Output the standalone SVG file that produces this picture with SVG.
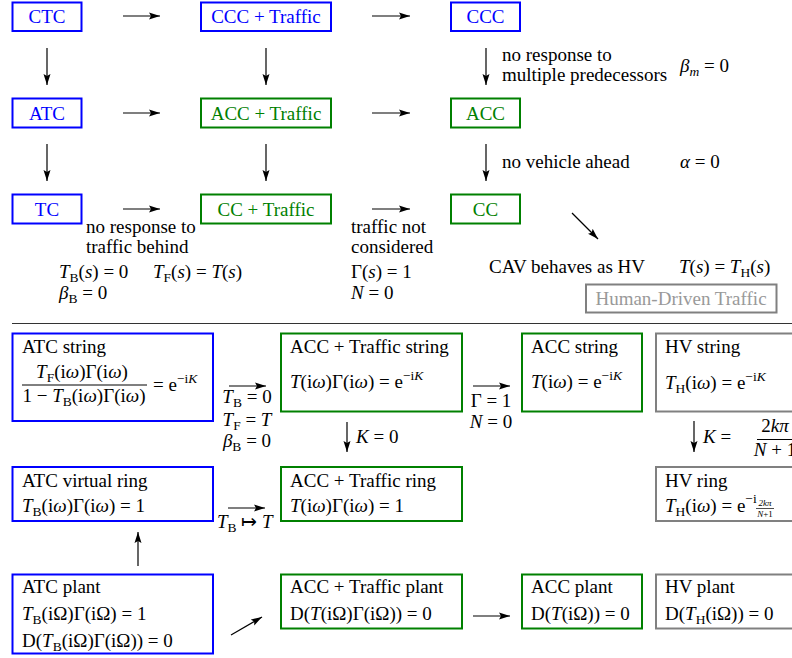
<svg xmlns="http://www.w3.org/2000/svg" width="792" height="658" viewBox="0 0 792 658">
<defs>
<marker id="ah" markerWidth="12" markerHeight="8" refX="11" refY="4" orient="auto" markerUnits="userSpaceOnUse"><path d="M0,0.5 L11,4 L0,7.5 L2,4 z" fill="#000"/></marker>
</defs>
<rect x="0" y="0" width="792" height="658" fill="#fff"/>

<!-- top section nodes -->
<g id="CTC"><rect x="12.5" y="2.5" width="69" height="28.5" fill="none" stroke="#0000ff" stroke-width="2"/><text font-family="Liberation Serif" font-size="19" fill="#0000ff" text-anchor="middle" x="47" y="23">CTC</text></g>
<g id="CCC-Traffic"><rect x="201" y="2.5" width="130" height="28.5" fill="none" stroke="#0000ff" stroke-width="2"/><text font-family="Liberation Serif" font-size="19" fill="#0000ff" text-anchor="middle" x="266" y="23">CCC + Traffic</text></g>
<g id="CCC"><rect x="451" y="2.5" width="69" height="28.5" fill="none" stroke="#0000ff" stroke-width="2"/><text font-family="Liberation Serif" font-size="19" fill="#0000ff" text-anchor="middle" x="485.5" y="23">CCC</text></g>
<g id="ATC"><rect x="12.5" y="98.5" width="69" height="29" fill="none" stroke="#0000ff" stroke-width="2"/><text font-family="Liberation Serif" font-size="19" fill="#0000ff" text-anchor="middle" x="47" y="120">ATC</text></g>
<g id="ACC-Traffic"><rect x="201" y="98.5" width="130" height="29" fill="none" stroke="#008000" stroke-width="2"/><text font-family="Liberation Serif" font-size="19" fill="#008000" text-anchor="middle" x="266" y="120">ACC + Traffic</text></g>
<g id="ACC"><rect x="451" y="98.5" width="69" height="29" fill="none" stroke="#008000" stroke-width="2"/><text font-family="Liberation Serif" font-size="19" fill="#008000" text-anchor="middle" x="485.5" y="120">ACC</text></g>
<g id="TC"><rect x="12.5" y="194.5" width="69" height="29" fill="none" stroke="#0000ff" stroke-width="2"/><text font-family="Liberation Serif" font-size="19" fill="#0000ff" text-anchor="middle" x="47" y="216">TC</text></g>
<g id="CC-Traffic"><rect x="201" y="194.5" width="130" height="29" fill="none" stroke="#008000" stroke-width="2"/><text font-family="Liberation Serif" font-size="19" fill="#008000" text-anchor="middle" x="266" y="216">CC + Traffic</text></g>
<g id="CC"><rect x="451" y="194.5" width="69" height="29" fill="none" stroke="#008000" stroke-width="2"/><text font-family="Liberation Serif" font-size="19" fill="#008000" text-anchor="middle" x="485.5" y="216">CC</text></g>
<g id="HDT"><rect x="586" y="284.5" width="190.5" height="28" fill="none" stroke="#808080" stroke-width="2"/><text font-family="Liberation Serif" font-size="19" fill="#999999" text-anchor="middle" x="681" y="305">Human-Driven Traffic</text></g>

<!-- separator -->
<line x1="12" y1="323.5" x2="792" y2="323.5" stroke="#333" stroke-width="1"/>

<!-- bottom section nodes -->
<g id="ATC-string"><rect x="12.5" y="333.5" width="200.5" height="87.5" fill="none" stroke="#0000ff" stroke-width="2"/>
<text font-family="Liberation Serif" font-size="19" x="22" y="353">ATC string</text>
<text font-family="Liberation Serif" font-size="19" text-anchor="middle" x="82" y="378"><tspan font-style="italic">T</tspan><tspan font-size="13.5" dy="4">F</tspan><tspan dy="-4">(i</tspan><tspan font-style="italic">ω</tspan>)Γ(i<tspan font-style="italic">ω</tspan>)</text>
<line x1="22" y1="385" x2="147" y2="385" stroke="#000" stroke-width="1"/>
<text font-family="Liberation Serif" font-size="19" text-anchor="middle" x="84" y="402">1 − <tspan font-style="italic">T</tspan><tspan font-size="13.5" dy="4">B</tspan><tspan dy="-4">(i</tspan><tspan font-style="italic">ω</tspan>)Γ(i<tspan font-style="italic">ω</tspan>)</text>
<text font-family="Liberation Serif" font-size="19" x="153" y="391">= e<tspan font-size="13.5" dy="-8">−i</tspan><tspan font-size="13.5" font-style="italic">K</tspan></text>
</g>
<g id="ACC-Traffic-string"><rect x="281" y="333.5" width="181" height="78" fill="none" stroke="#008000" stroke-width="2"/>
<text font-family="Liberation Serif" font-size="19" x="290" y="353">ACC + Traffic string</text>
<text font-family="Liberation Serif" font-size="19" x="290" y="388"><tspan font-style="italic">T</tspan>(i<tspan font-style="italic">ω</tspan>)Γ(i<tspan font-style="italic">ω</tspan>) = e<tspan font-size="13.5" dy="-8">−i</tspan><tspan font-size="13.5" font-style="italic">K</tspan></text>
</g>
<g id="ACC-string"><rect x="522" y="333.5" width="120" height="78" fill="none" stroke="#008000" stroke-width="2"/>
<text font-family="Liberation Serif" font-size="19" x="531" y="353">ACC string</text>
<text font-family="Liberation Serif" font-size="19" x="531" y="388"><tspan font-style="italic">T</tspan>(i<tspan font-style="italic">ω</tspan>) = e<tspan font-size="13.5" dy="-8">−i</tspan><tspan font-size="13.5" font-style="italic">K</tspan></text>
</g>
<g id="HV-string"><rect x="656" y="333.5" width="150" height="78" fill="none" stroke="#808080" stroke-width="2"/>
<text font-family="Liberation Serif" font-size="19" x="665" y="353">HV string</text>
<text font-family="Liberation Serif" font-size="19" x="665" y="389"><tspan font-style="italic">T</tspan><tspan font-size="13.5" dy="4">H</tspan><tspan dy="-4">(i</tspan><tspan font-style="italic">ω</tspan>) = e<tspan font-size="13.5" dy="-8">−i</tspan><tspan font-size="13.5" font-style="italic">K</tspan></text>
</g>
<g id="ATC-virtual-ring"><rect x="12.5" y="467" width="200.5" height="54" fill="none" stroke="#0000ff" stroke-width="2"/>
<text font-family="Liberation Serif" font-size="19" x="22" y="487">ATC virtual ring</text>
<text font-family="Liberation Serif" font-size="19" x="22" y="512"><tspan font-style="italic">T</tspan><tspan font-size="13.5" dy="4">B</tspan><tspan dy="-4">(i</tspan><tspan font-style="italic">ω</tspan>)Γ(i<tspan font-style="italic">ω</tspan>) = 1</text>
</g>
<g id="ACC-Traffic-ring"><rect x="281" y="467" width="181" height="54" fill="none" stroke="#008000" stroke-width="2"/>
<text font-family="Liberation Serif" font-size="19" x="290" y="487">ACC + Traffic ring</text>
<text font-family="Liberation Serif" font-size="19" x="290" y="512"><tspan font-style="italic">T</tspan>(i<tspan font-style="italic">ω</tspan>)Γ(i<tspan font-style="italic">ω</tspan>) = 1</text>
</g>
<g id="HV-ring"><rect x="656" y="467" width="150" height="54" fill="none" stroke="#808080" stroke-width="2"/>
<text font-family="Liberation Serif" font-size="19" x="665" y="487">HV ring</text>
<text font-family="Liberation Serif" font-size="19" x="665" y="512"><tspan font-style="italic">T</tspan><tspan font-size="13.5" dy="4">H</tspan><tspan dy="-4">(i</tspan><tspan font-style="italic">ω</tspan>) = e<tspan font-size="13.5" dy="-9">−i</tspan></text>
<text font-family="Liberation Serif" font-size="9" font-style="italic" text-anchor="middle" x="765" y="506">2kπ</text>
<line x1="756" y1="508.5" x2="774" y2="508.5" stroke="#000" stroke-width="0.7"/>
<text font-family="Liberation Serif" font-size="9" text-anchor="middle" x="765" y="517"><tspan font-style="italic">N</tspan>+1</text>
</g>
<g id="ATC-plant"><rect x="12.5" y="574.5" width="200.5" height="79" fill="none" stroke="#0000ff" stroke-width="2"/>
<text font-family="Liberation Serif" font-size="19" x="22" y="593">ATC plant</text>
<text font-family="Liberation Serif" font-size="19" x="22" y="620"><tspan font-style="italic">T</tspan><tspan font-size="13.5" dy="4">B</tspan><tspan dy="-4">(iΩ)Γ(iΩ) = 1</tspan></text>
<text font-family="Liberation Serif" font-size="19" x="22" y="647">D(<tspan font-style="italic">T</tspan><tspan font-size="13.5" dy="4">B</tspan><tspan dy="-4">(iΩ)Γ(iΩ)) = 0</tspan></text>
</g>
<g id="ACC-Traffic-plant"><rect x="281" y="574.5" width="181" height="54" fill="none" stroke="#008000" stroke-width="2"/>
<text font-family="Liberation Serif" font-size="19" x="290" y="593">ACC + Traffic plant</text>
<text font-family="Liberation Serif" font-size="19" x="290" y="620">D(<tspan font-style="italic">T</tspan>(iΩ)Γ(iΩ)) = 0</text>
</g>
<g id="ACC-plant"><rect x="522" y="574.5" width="120" height="54" fill="none" stroke="#008000" stroke-width="2"/>
<text font-family="Liberation Serif" font-size="19" x="531" y="593">ACC plant</text>
<text font-family="Liberation Serif" font-size="19" x="531" y="620">D(<tspan font-style="italic">T</tspan>(iΩ)) = 0</text>
</g>
<g id="HV-plant"><rect x="656" y="574.5" width="150" height="54" fill="none" stroke="#808080" stroke-width="2"/>
<text font-family="Liberation Serif" font-size="19" x="665" y="593">HV plant</text>
<text font-family="Liberation Serif" font-size="19" x="665" y="620">D(<tspan font-style="italic">T</tspan><tspan font-size="13.5" dy="4">H</tspan><tspan dy="-4">(iΩ)) = 0</tspan></text>
</g>

<!-- connectors -->
<g id="connectors" stroke="#000" stroke-width="1.2" marker-end="url(#ah)">
<line x1="123" y1="16" x2="160" y2="16"/>
<line x1="372" y1="16" x2="410" y2="16"/>
<line x1="123" y1="113" x2="160" y2="113"/>
<line x1="372" y1="113" x2="410" y2="113"/>
<line x1="123" y1="209" x2="160" y2="209"/>
<line x1="372" y1="209" x2="410" y2="209"/>
<line x1="47" y1="48" x2="47" y2="85"/>
<line x1="266" y1="48" x2="266" y2="85"/>
<line x1="486" y1="48" x2="486" y2="85"/>
<line x1="47" y1="144" x2="47" y2="181"/>
<line x1="266" y1="144" x2="266" y2="181"/>
<line x1="486" y1="144" x2="486" y2="181"/>
<line x1="572" y1="213" x2="598" y2="239"/>
<line x1="229" y1="386" x2="266" y2="386"/>
<line x1="473" y1="386" x2="510" y2="386"/>
<line x1="347" y1="422" x2="347" y2="452"/>
<line x1="694" y1="421" x2="694" y2="452"/>
<line x1="228" y1="508" x2="265" y2="508"/>
<line x1="138" y1="566" x2="138" y2="532"/>
<line x1="231" y1="635" x2="262" y2="617"/>
<line x1="473" y1="616" x2="510" y2="616"/>
</g>

<!-- labels -->
<g id="labels">
<text font-family="Liberation Serif" font-size="19" x="502" y="61">no response to</text>
<text font-family="Liberation Serif" font-size="19" x="502" y="81">multiple predecessors</text>
<text font-family="Liberation Serif" font-size="19" x="680" y="72"><tspan font-style="italic">β</tspan><tspan font-size="13.5" font-style="italic" dy="4">m</tspan><tspan dy="-4"> = 0</tspan></text>
<text font-family="Liberation Serif" font-size="19" x="502" y="168">no vehicle ahead</text>
<text font-family="Liberation Serif" font-size="19" x="680" y="168"><tspan font-style="italic">α</tspan> = 0</text>
<text font-family="Liberation Serif" font-size="19" x="86" y="233">no response to</text>
<text font-family="Liberation Serif" font-size="19" x="86" y="253">traffic behind</text>
<text font-family="Liberation Serif" font-size="19" x="59" y="278"><tspan font-style="italic">T</tspan><tspan font-size="13.5" dy="4">B</tspan><tspan dy="-4">(</tspan><tspan font-style="italic">s</tspan>) = 0</text>
<text font-family="Liberation Serif" font-size="19" x="153" y="278"><tspan font-style="italic">T</tspan><tspan font-size="13.5" dy="4">F</tspan><tspan dy="-4">(</tspan><tspan font-style="italic">s</tspan>) = <tspan font-style="italic">T</tspan>(<tspan font-style="italic">s</tspan>)</text>
<text font-family="Liberation Serif" font-size="19" x="59" y="299"><tspan font-style="italic">β</tspan><tspan font-size="13.5" dy="4">B</tspan><tspan dy="-4"> = 0</tspan></text>
<text font-family="Liberation Serif" font-size="19" x="351" y="233">traffic not</text>
<text font-family="Liberation Serif" font-size="19" x="351" y="253">considered</text>
<text font-family="Liberation Serif" font-size="19" x="351" y="278">Γ(<tspan font-style="italic">s</tspan>) = 1</text>
<text font-family="Liberation Serif" font-size="19" x="351" y="299"><tspan font-style="italic">N</tspan> = 0</text>
<text font-family="Liberation Serif" font-size="19" x="489" y="273">CAV behaves as HV</text>
<text font-family="Liberation Serif" font-size="19" x="679" y="273"><tspan font-style="italic">T</tspan>(<tspan font-style="italic">s</tspan>) = <tspan font-style="italic">T</tspan><tspan font-size="13.5" dy="4">H</tspan><tspan dy="-4">(</tspan><tspan font-style="italic">s</tspan>)</text>
<text font-family="Liberation Serif" font-size="19" text-anchor="middle" x="247" y="403"><tspan font-style="italic">T</tspan><tspan font-size="13.5" dy="4">B</tspan><tspan dy="-4"> = 0</tspan></text>
<text font-family="Liberation Serif" font-size="19" text-anchor="middle" x="247" y="426"><tspan font-style="italic">T</tspan><tspan font-size="13.5" dy="4">F</tspan><tspan dy="-4"> = </tspan><tspan font-style="italic">T</tspan></text>
<text font-family="Liberation Serif" font-size="19" text-anchor="middle" x="247" y="447"><tspan font-style="italic">β</tspan><tspan font-size="13.5" dy="4">B</tspan><tspan dy="-4"> = 0</tspan></text>
<text font-family="Liberation Serif" font-size="19" text-anchor="middle" x="491" y="407">Γ = 1</text>
<text font-family="Liberation Serif" font-size="19" text-anchor="middle" x="491" y="428"><tspan font-style="italic">N</tspan> = 0</text>
<text font-family="Liberation Serif" font-size="19" x="356" y="443"><tspan font-style="italic">K</tspan> = 0</text>
<text font-family="Liberation Serif" font-size="19" x="703" y="443"><tspan font-style="italic">K</tspan> =</text>
<text font-family="Liberation Serif" font-size="19" text-anchor="middle" x="775" y="432">2<tspan font-style="italic">kπ</tspan></text>
<line x1="757" y1="439.5" x2="795" y2="439.5" stroke="#000" stroke-width="1"/>
<text font-family="Liberation Serif" font-size="19" text-anchor="middle" x="775" y="456"><tspan font-style="italic">N</tspan> + 1</text>
<text font-family="Liberation Serif" font-size="19" x="217" y="528"><tspan font-style="italic">T</tspan><tspan font-size="13.5" dy="4">B</tspan><tspan dy="-4"> ↦ </tspan><tspan font-style="italic">T</tspan></text>
</g>
</svg>
